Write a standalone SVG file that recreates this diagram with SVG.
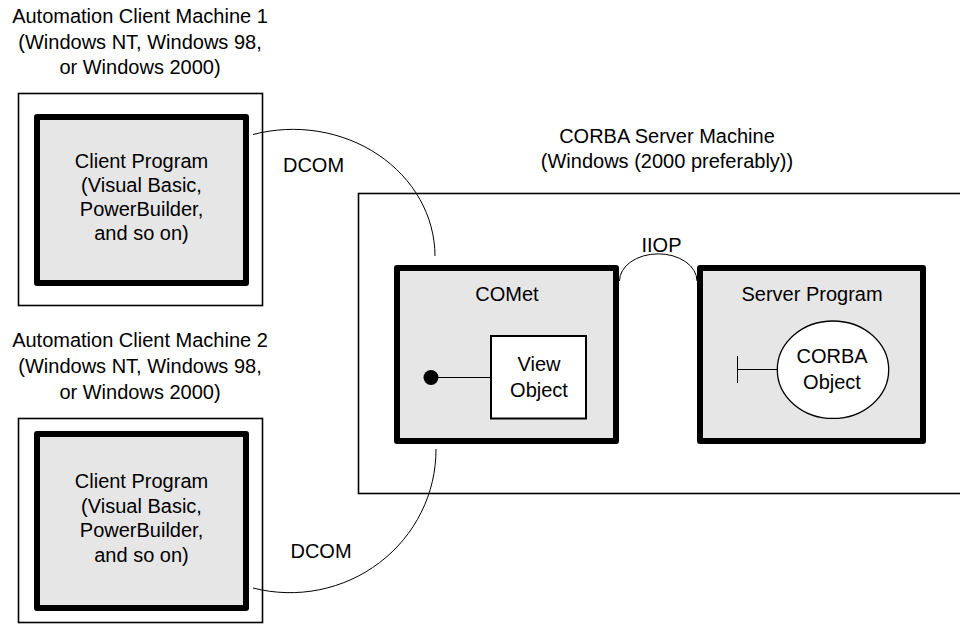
<svg xmlns="http://www.w3.org/2000/svg" width="960" height="625" viewBox="0 0 960 625">
<style>
text{font-family:"Liberation Sans",Arial,sans-serif;font-size:20px;fill:#000;text-anchor:middle}
.machine{fill:#fff;stroke:#000;stroke-width:1.6}
.prog{fill:#e6e6e6;stroke:#000;stroke-width:6;stroke-linejoin:round}
.thin{fill:none;stroke:#000;stroke-width:1}
</style>
<rect width="960" height="625" fill="#fff"/>
<g id="client1">
<text x="140" y="23">Automation Client Machine 1</text>
<text x="140" y="49">(Windows NT, Windows 98,</text>
<text x="140" y="74">or Windows 2000)</text>
<rect class="machine" x="18.5" y="93.5" width="244" height="212"/>
<g id="client1-program">
<rect class="prog" x="37" y="117" width="209" height="166"/>
<text x="141.5" y="168">Client Program</text>
<text x="141.5" y="192">(Visual Basic,</text>
<text x="141.5" y="216">PowerBuilder,</text>
<text x="141.5" y="240">and so on)</text>
</g>
</g>
<g id="client2">
<text x="140" y="347">Automation Client Machine 2</text>
<text x="140" y="373">(Windows NT, Windows 98,</text>
<text x="140" y="399">or Windows 2000)</text>
<rect class="machine" x="18.5" y="418.5" width="244" height="204"/>
<g id="client2-program">
<rect class="prog" x="37" y="434" width="209" height="174"/>
<text x="141.5" y="488">Client Program</text>
<text x="141.5" y="512.5">(Visual Basic,</text>
<text x="141.5" y="537">PowerBuilder,</text>
<text x="141.5" y="561.5">and so on)</text>
</g>
</g>
<g id="server">
<text x="667" y="143">CORBA Server Machine</text>
<text x="667" y="168">(Windows (2000 preferably))</text>
<rect class="machine" x="358.5" y="193.5" width="610" height="300"/>
</g>
<g id="comet">
<rect class="prog" x="397" y="268" width="219" height="173"/>
<text x="507" y="301">COMet</text>
<g id="view-object">
<rect x="491" y="336" width="95" height="82.5" fill="#fff" stroke="#000" stroke-width="2"/>
<text x="539" y="371">View</text>
<text x="539" y="396.5">Object</text>
</g>
</g>
<g id="server-program">
<rect class="prog" x="700" y="268" width="223" height="173"/>
<text x="812" y="300.5">Server Program</text>
<g id="corba-object">
<ellipse cx="833" cy="369.7" rx="55.7" ry="48.7" fill="#fff" stroke="#000" stroke-width="1.3"/>
<text x="832" y="363">CORBA</text>
<text x="832" y="388.5">Object</text>
</g>
</g>
<g id="connectors">
<path class="thin" d="M253,134.5 A142,127 0 0 1 435,256"/>
<path class="thin" d="M436,449 A146,143 0 0 1 253,588"/>
<path class="thin" d="M619.5,281 A38.5,27 0 0 1 697,281"/>
<circle cx="431" cy="377.5" r="7.5" fill="#000"/>
<line class="thin" x1="431" y1="377.5" x2="491" y2="377.5" stroke-width="1.3"/>
<line class="thin" x1="737.5" y1="369.5" x2="777.3" y2="369.5" stroke-width="1.3"/>
<line class="thin" x1="737.5" y1="356" x2="737.5" y2="383" stroke-width="1.5"/>
<text x="313.5" y="172">DCOM</text>
<text x="321" y="557.5">DCOM</text>
<text x="661.5" y="251.5">IIOP</text>
</g>
</svg>
